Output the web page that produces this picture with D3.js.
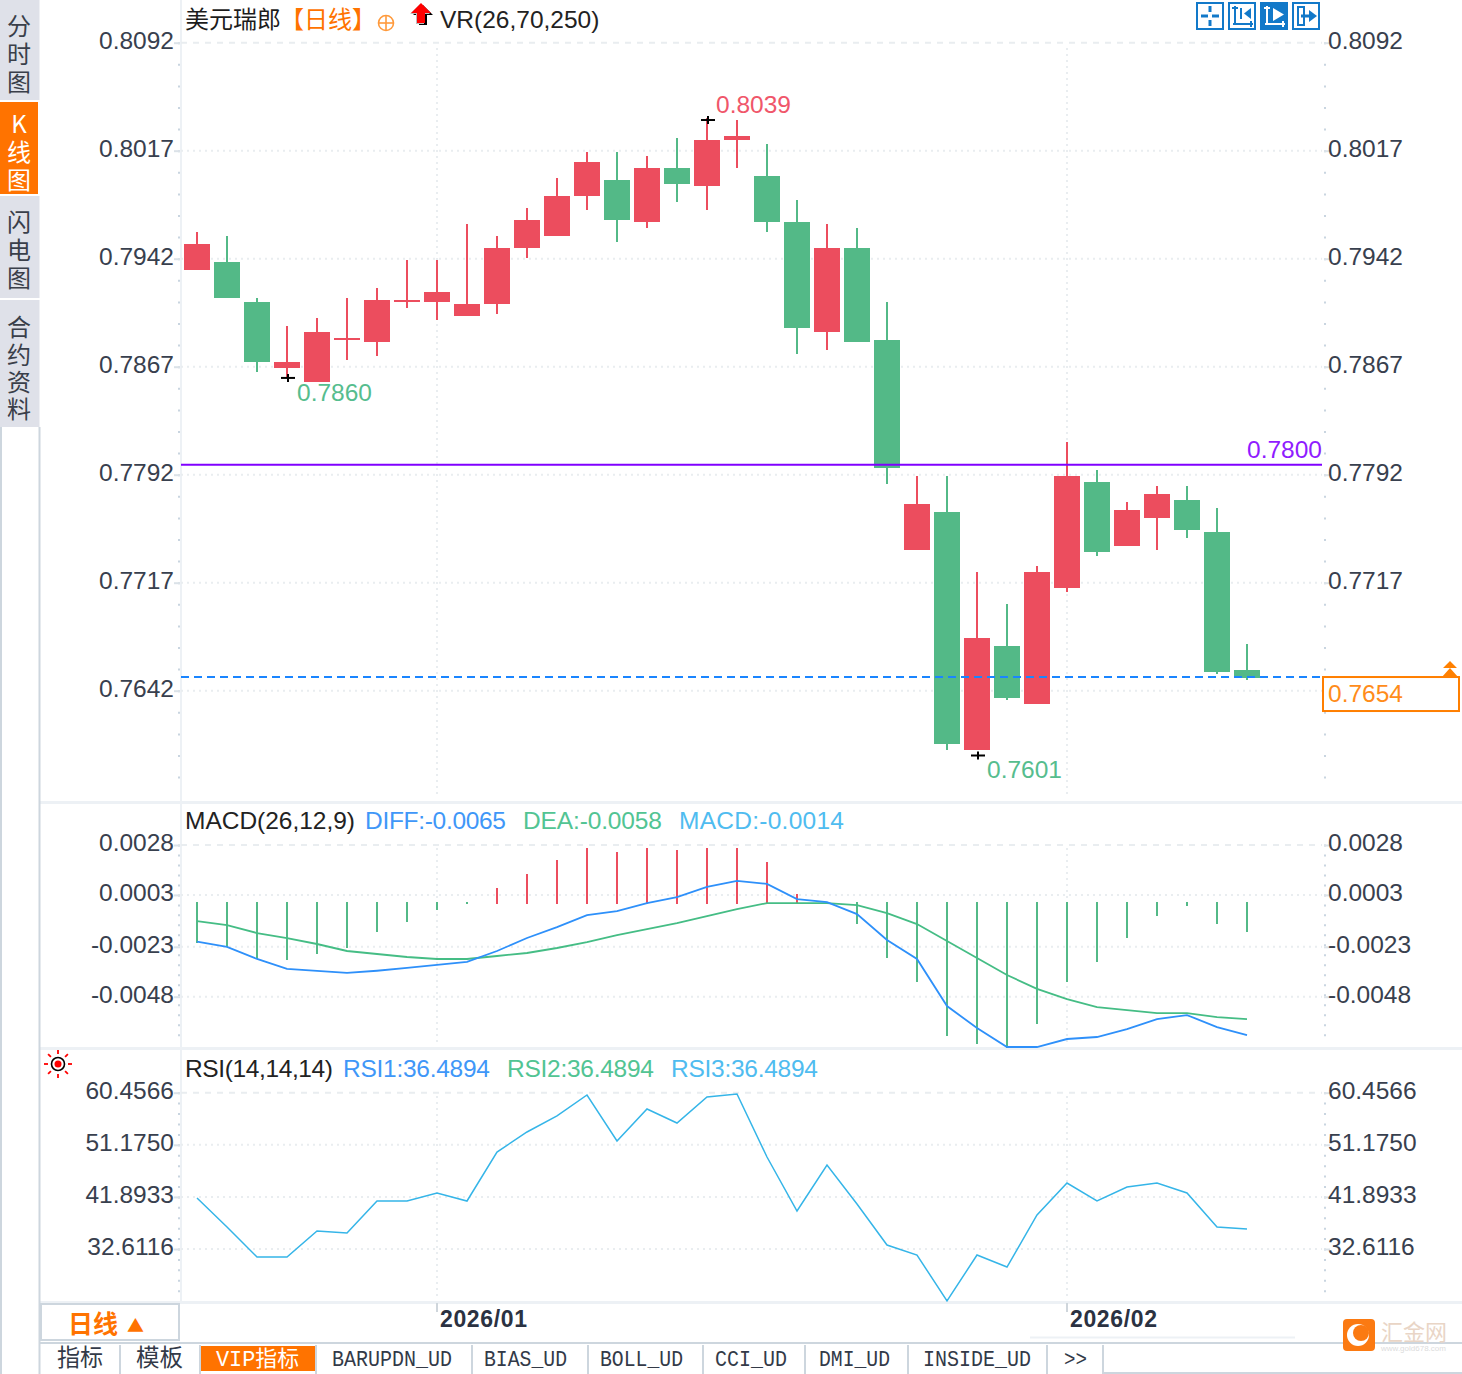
<!DOCTYPE html>
<html>
<head>
<meta charset="utf-8">
<script src="https://cdn.jsdelivr.net/npm/d3@7/dist/d3.min.js"></script>
<style>
html, body { margin: 0; padding: 0; background: #fff; }
svg { display: block; font-family: "Liberation Sans", "Noto Sans CJK SC", sans-serif; }
.tick text { font-size: 24.5px; fill: #38404e; }
.cjk { font-family: "Noto Sans CJK SC", sans-serif; }
.mono { font-family: "Liberation Mono", "Noto Sans CJK SC", monospace; }
.vertical { font-family: "Noto Sans CJK SC", sans-serif; writing-mode: vertical-rl; text-orientation: upright; }
</style>
</head>
<body>
<svg id="chart" width="1462" height="1374"></svg>
<script>
// candles, red ones close above open
var opens = [ 0.79342, 0.79397, 0.79119, 0.78661, 0.78564, 0.78855, 0.78842, 0.79119, 0.79119, 0.79022,
		0.79105, 0.79494, 0.79578, 0.79855, 0.79967, 0.79675, 0.80050, 0.79925, 0.80244, 0.79994,
		0.79675, 0.78911, 0.79494, 0.78855, 0.77397, 0.77661, 0.76008, 0.76730, 0.76328, 0.77133,
		0.77869, 0.77425, 0.77619, 0.77744, 0.77522, 0.76564 ];
var closes = [ 0.79522, 0.79147, 0.78703, 0.78703, 0.78911, 0.78869, 0.79133, 0.79133, 0.79189, 0.79105,
		0.79494, 0.79689, 0.79855, 0.80092, 0.79689, 0.80050, 0.79939, 0.80244, 0.80272, 0.79675,
		0.78939, 0.79494, 0.78842, 0.77967, 0.77717, 0.76050, 0.76786, 0.76369, 0.77244, 0.77911,
		0.77383, 0.77675, 0.77786, 0.77536, 0.76550, 0.76508 ];
var highs = [ 0.79605, 0.79578, 0.79147, 0.78953, 0.79008, 0.79147, 0.79217, 0.79411, 0.79411, 0.79661,
		0.79578, 0.79772, 0.79980, 0.80161, 0.80161, 0.80133, 0.80258, 0.80397, 0.80383, 0.80217,
		0.79828, 0.79661, 0.79633, 0.79119, 0.77911, 0.77911, 0.77244, 0.77022, 0.77286, 0.78147,
		0.77953, 0.77730, 0.77842, 0.77842, 0.77689, 0.76744 ];
var lows = [ 0.79342, 0.79147, 0.78633, 0.78592, 0.78564, 0.78717, 0.78744, 0.79078, 0.78994, 0.79022,
		0.79036, 0.79425, 0.79578, 0.79758, 0.79536, 0.79633, 0.79814, 0.79758, 0.80050, 0.79606,
		0.78758, 0.78786, 0.78842, 0.77855, 0.77397, 0.76008, 0.76008, 0.76355, 0.76328, 0.77105,
		0.77355, 0.77425, 0.77397, 0.77480, 0.76536, 0.76494 ];

var priceTicks = [ 0.8092, 0.8017, 0.7942, 0.7867, 0.7792, 0.7717, 0.7642 ];
var macdTicks = [ 0.0028, 0.0003, -0.0023, -0.0048 ];
var rsiTicks = [ 60.4566, 51.1750, 41.8933, 32.6116 ];

var macdBars = [ -0.00211, -0.00231, -0.00291, -0.00296, -0.00266, -0.00236, -0.00156, -0.00106, -0.00046, -0.00016,
		0.00065, 0.00135, 0.00205, 0.00265, 0.00245, 0.00265, 0.00255, 0.00265, 0.00265, 0.00195,
		0.00035, -0.00016, -0.00116, -0.00286, -0.00406, -0.00677, -0.00717, -0.00737, -0.00617, -0.00406,
		-0.00306, -0.00186, -0.00076, -0.00026, -0.00116, -0.00156 ];
var macdUp = [ 0, 0, 0, 0, 0, 0, 0, 0, 0, 0,
		1, 1, 1, 1, 1, 1, 1, 1, 1, 1,
		1, 1, 0, 0, 0, 0, 0, 0, 0, 0,
		0, 0, 0, 0, 0, 0 ];
var diffLine = [ -0.00204, -0.00230, -0.00291, -0.00341, -0.00351, -0.00361, -0.00350, -0.00336, -0.00321, -0.00306,
		-0.00251, -0.00186, -0.00131, -0.00071, -0.00051, -0.00011, 0.00019, 0.00070, 0.00100, 0.00085,
		0.00009, -0.00006, -0.00066, -0.00196, -0.00291, -0.00527, -0.00637, -0.00732, -0.00732, -0.00692,
		-0.00682, -0.00642, -0.00592, -0.00572, -0.00632, -0.00672 ];
var deaLine = [ -0.00101, -0.00121, -0.00161, -0.00186, -0.00216, -0.00251, -0.00266, -0.00281, -0.00291, -0.00291,
		-0.00276, -0.00261, -0.00236, -0.00206, -0.00171, -0.00141, -0.00111, -0.00076, -0.00041, -0.00011,
		-0.00011, -0.00011, -0.00021, -0.00061, -0.00116, -0.00201, -0.00286, -0.00371, -0.00441, -0.00492,
		-0.00532, -0.00547, -0.00562, -0.00562, -0.00582, -0.00592 ];
var rsiLine = [ 41.70, 36.53, 31.19, 31.19, 35.82, 35.46, 41.16, 41.16, 42.59, 41.16,
		49.89, 53.46, 56.31, 60.05, 51.85, 57.55, 55.06, 59.69, 60.23, 49.00,
		39.38, 47.57, 40.63, 33.32, 31.54, 23.35, 31.54, 29.40, 38.67, 44.37,
		41.16, 43.66, 44.37, 42.59, 36.53, 36.17 ];

var monthIndex = [ 8, 29 ];
var monthLabels = [ "2026/01", "2026/02" ];
var sideTabs = [ "分时图", "K线图", "闪电图", "合约资料" ];
var bottomTabs = [ "指标", "模板", "VIP指标", "BARUPDN_UD", "BIAS_UD", "BOLL_UD", "CCI_UD", "DMI_UD", "INSIDE_UD", ">>" ];
var extremes = [ { i : 17, v : 0.80383, label : "0.8039" }, { i : 3, v : 0.78592, label : "0.7860" }, { i : 26, v : 0.75970, label : "0.7601" } ];

var LINE_VALUE = 0.77989;
var LAST_VALUE = 0.76515;

var RED = "#ec4d5e";
var GREEN = "#53b987";
var GRID = "#e9edf0";
var SEPARATOR = "#edf1f5";
var BORDER = "#cdd6de";
var ORANGE = "#ff7300";
var PLOT_LEFT = 181;
var PLOT_RIGHT = 1322;

var svg = d3.select("#chart");

var x = d3.scaleLinear().domain([ 0, 35 ]).range([ 197, 1247 ]);
var yPrice = d3.scaleLinear().domain([ 0.8092, 0.7642 ]).range([ 42.7, 690.7 ]);
var yMacd = d3.scaleLinear().domain([ 0.0028, -0.0048 ]).range([ 845, 996.7 ]);
var yRsi = d3.scaleLinear().domain([ 60.4566, 32.6116 ]).range([ 1092.7, 1249 ]);

function addText(x0, y0, text, size, color, className, anchor) {
	return svg.append("text") //
	.attr("x", x0) //
	.attr("y", y0) //
	.attr("font-size", size) //
	.attr("fill", color) //
	.attr("class", className || null) //
	.attr("text-anchor", anchor || "start") //
	.text(text);
}// END: addText

function addLine(x1, y1, x2, y2, color, width, dash) {
	return svg.append("line") //
	.attr("x1", x1) //
	.attr("y1", y1) //
	.attr("x2", x2) //
	.attr("y2", y2) //
	.attr("stroke", color) //
	.attr("stroke-width", width) //
	.attr("stroke-dasharray", dash || null);
}// END: addLine

function generateFrame() {

	[ 802.5, 1048.5, 1302.5 ].forEach(function(y0) {
		addLine(40, y0, 1462, y0, SEPARATOR, 3);
	});

	addLine(181, 0, 181, 1302, SEPARATOR, 2);
	addLine(1, 427, 1, 1374, BORDER, 2);
	addLine(39.5, 427, 39.5, 1374, BORDER, 2);

}// END: generateFrame

function generateGrid(y, ticks, yTop, yBottom) {

	ticks.forEach(function(d, i) {
		if (i == 0) {
			addLine(PLOT_LEFT, y(d), PLOT_RIGHT, y(d), GRID, 2, "6,6");
		} else {
			addLine(PLOT_LEFT, y(d), PLOT_RIGHT, y(d), GRID, 2, "2,4");
		}
	});

	monthIndex.forEach(function(d) {
		addLine(x(d), yTop, x(d), yBottom, GRID, 2, "2,4");
	});

}// END: generateGrid

function generateAxes(y, ticks, rightTicks, minorStep, yEnd) {

	var minor = d3.range(ticks[0], y.invert(yEnd), -minorStep);

	[ [ d3.axisLeft, PLOT_LEFT - 1, ticks ], [ d3.axisRight, 1324, rightTicks ] ].forEach(function(side) {

		svg.append("g") //
		.attr("transform", "translate(" + side[1] + ",0)") //
		.call(side[0](y).tickValues(minor).tickSize(2).tickFormat("")) //
		.call(function(g) {
			g.select(".domain").remove();
			g.selectAll("line").attr("stroke", "#c9d5e0").attr("stroke-width", 2);
		});

		svg.append("g") //
		.attr("transform", "translate(" + side[1] + ",0)") //
		.call(side[0](y).tickValues(side[2]).tickSize(6).tickPadding(side[0] == d3.axisLeft ? 0 : -2) //
		.tickFormat(function(d) {
			return (d.toFixed(4));
		})) //
		.call(function(g) {
			g.select(".domain").remove();
			g.selectAll("line").attr("stroke", "#dbe2e8").attr("stroke-width", 2);
			g.selectAll("text").attr("dy", "0.24em").attr("font-family", null);
		});

	});

}// END: generateAxes

function generateCandles() {

	var candle = svg.append("g").selectAll("g").data(opens).enter().append("g") //
	.attr("fill", function(d, i) {
		return (closes[i] >= d ? RED : GREEN);
	});

	candle.append("rect") //
	.attr("shape-rendering", "crispEdges") //
	.attr("x", function(d, i) {
		return (x(i) - 1);
	}) //
	.attr("width", 2) //
	.attr("y", function(d, i) {
		return (yPrice(highs[i]));
	}) //
	.attr("height", function(d, i) {
		return (yPrice(lows[i]) - yPrice(highs[i]));
	});

	candle.append("rect") //
	.attr("shape-rendering", "crispEdges") //
	.attr("x", function(d, i) {
		return (x(i) - 13);
	}) //
	.attr("width", 26) //
	.attr("y", function(d, i) {
		return (yPrice(Math.max(d, closes[i])));
	}) //
	.attr("height", function(d, i) {
		return (Math.max(2, yPrice(Math.min(d, closes[i])) - yPrice(Math.max(d, closes[i]))));
	});

}// END: generateCandles

function generateExtremes() {

	var labelColors = [ "#f0566a", "#56bd8e", "#56bd8e" ];
	var labelDx = [ 9, 10, 10 ];
	var labelDy = [ -7, 23, 22 ];

	extremes.forEach(function(d, i) {

		var cx = x(d.i), cy = yPrice(d.v);
		addLine(cx - 6, cy, cx + 8, cy, "#000", 2);
		addLine(cx + 1, cy - 4, cx + 1, cy + 4, "#000", 2);
		addText(cx + labelDx[i], cy + labelDy[i], d.label, 24.5, labelColors[i]);

	});

}// END: generateExtremes

function generatePriceLines() {

	var lineY = yPrice(LINE_VALUE);
	var lastY = yPrice(LAST_VALUE);

	addLine(PLOT_LEFT, lineY, PLOT_RIGHT, lineY, "#8000ff", 2);
	addText(PLOT_RIGHT, lineY - 7, "0.7800", 24.5, "#8f1cff", null, "end");

	addLine(PLOT_LEFT, lastY, PLOT_RIGHT, lastY, "#1a85ff", 2, "8,5");

	svg.append("rect") //
	.attr("x", 1323) //
	.attr("y", lastY) //
	.attr("width", 136) //
	.attr("height", 34) //
	.attr("fill", "#fff") //
	.attr("stroke", "#ff7f00") //
	.attr("stroke-width", 2);

	addText(1328, lastY + 25, "0.7654", 24.5, "#ff8c1a");

	svg.append("path") //
	.attr("d", "M1450 661l7 7h-14zM1450 668l8 9h-16z") //
	.attr("fill", "#ff8000");

}// END: generatePriceLines

function generateMacd() {

	svg.append("g").selectAll("rect").data(macdBars).enter().append("rect") //
	.attr("shape-rendering", "crispEdges") //
	.attr("x", function(d, i) {
		return (x(i) - 1);
	}) //
	.attr("width", 2) //
	.attr("y", function(d, i) {
		return (macdUp[i] ? yMacd(d) : yMacd(-0.00006));
	}) //
	.attr("height", function(d, i) {
		return (macdUp[i] ? yMacd(-0.00016) - yMacd(d) : yMacd(d) - yMacd(-0.00006));
	}) //
	.attr("fill", function(d, i) {
		return (macdUp[i] ? RED : GREEN);
	});

	var line = d3.line().x(function(d, i) {
		return (x(i));
	}).y(function(d) {
		return (yMacd(d));
	});

	svg.append("path").attr("d", line(deaLine)).attr("fill", "none").attr("stroke", "#45bd85").attr("stroke-width", 1.8);
	svg.append("path").attr("d", line(diffLine)).attr("fill", "none").attr("stroke", "#2e90fa").attr("stroke-width", 1.8);

}// END: generateMacd

function generateRsi() {

	var line = d3.line().x(function(d, i) {
		return (x(i));
	}).y(function(d) {
		return (yRsi(d));
	});

	svg.append("path").attr("d", line(rsiLine)).attr("fill", "none").attr("stroke", "#35b5e8").attr("stroke-width", 1.5);

}// END: generateRsi

function generateTitles() {

	addText(185, 28, "美元瑞郎", 24, "#1c1c1c", "cjk");
	addText(280, 28, "【日线】", 24, ORANGE, "cjk");

	// small marker icons next to the title
	svg.append("circle").attr("cx", 386).attr("cy", 23).attr("r", 7.5).attr("fill", "none").attr("stroke", "#ff9a3c").attr("stroke-width", 1.6);
	addLine(378, 23, 394, 23, "#ff9a3c", 1.6);
	addLine(386, 15, 386, 31, "#ff9a3c", 1.6);
	var arrow = "l10 10h-6v10h-8v-10h-6z";
	svg.append("path").attr("d", "M423 5" + arrow).attr("fill", "#000");
	svg.append("path").attr("d", "M420 4" + arrow).attr("fill", "#bbb");
	svg.append("path").attr("d", "M421 3" + arrow).attr("fill", "#f00");

	addText(440, 28, "VR(26,70,250)", 24.5, "#222");

	addText(185, 829, "MACD(26,12,9)", 24.5, "#222").attr("textLength", 170);
	addText(365, 829, "DIFF:-0.0065", 24.5, "#3f97f8").attr("textLength", 141);
	addText(523, 829, "DEA:-0.0058", 24.5, "#52c493").attr("textLength", 139);
	addText(679, 829, "MACD:-0.0014", 24.5, "#4fbcf0").attr("textLength", 165);

	addText(185, 1077, "RSI(14,14,14)", 24.5, "#222").attr("textLength", 148);
	addText(343, 1077, "RSI1:36.4894", 24.5, "#3f97f8").attr("textLength", 147);
	addText(507, 1077, "RSI2:36.4894", 24.5, "#52c493").attr("textLength", 147);
	addText(671, 1077, "RSI3:36.4894", 24.5, "#4fbcf0").attr("textLength", 147);

	// red sun marker of the RSI panel
	svg.append("circle").attr("cx", 58).attr("cy", 1064).attr("r", 6.5).attr("fill", "#fff").attr("stroke", "#000").attr("stroke-width", 1.6);
	svg.append("circle").attr("cx", 58).attr("cy", 1064).attr("r", 3.5).attr("fill", "#f00");
	d3.range(8).forEach(function(d) {
		var a = d * Math.PI / 4;
		addLine(58 + 10 * Math.cos(a), 1064 + 10 * Math.sin(a), 58 + 14 * Math.cos(a), 1064 + 14 * Math.sin(a), "#f00", 1.8);
	});

}// END: generateTitles

function generateToolbar() {

	[ 1197, 1229, 1261, 1293 ].forEach(function(x0, i) {

		svg.append("rect") //
		.attr("x", x0) //
		.attr("y", 3) //
		.attr("width", 26) //
		.attr("height", 26) //
		.attr("fill", i == 2 ? "#1279c9" : "#fff") //
		.attr("stroke", "#1279c9") //
		.attr("stroke-width", 2);

		var c = i == 2 ? "#fff" : "#1279c9";
		if (i == 0) {
			addLine(x0 + 4, 16, x0 + 11, 16, c, 3);
			addLine(x0 + 15, 16, x0 + 22, 16, c, 3);
			addLine(x0 + 13, 6, x0 + 13, 12, c, 3);
			addLine(x0 + 13, 20, x0 + 13, 26, c, 3);
		} else if (i == 3) {
			svg.append("rect").attr("x", x0 + 5).attr("y", 7).attr("width", 6).attr("height", 18).attr("fill", "none").attr("stroke", c).attr("stroke-width", 2);
			addLine(x0 + 8, 16, x0 + 17, 16, c, 3);
			svg.append("path").attr("d", "M" + (x0 + 16) + " 10l8 6l-8 6z").attr("fill", c);
		} else {
			addLine(x0 + 6, 6, x0 + 6, 25, c, 2);
			addLine(x0 + 4, 24, x0 + 24, 24, c, 2);
			addLine(x0 + 3, 8, x0 + 9, 8, c, 2);
			addLine(x0 + 22, 21, x0 + 22, 27, c, 2);
			if (i == 1) {
				addLine(x0 + 12, 8, x0 + 12, 19, c, 2);
				svg.append("path").attr("d", "M" + (x0 + 22) + " 8v11l-7-5.5z").attr("fill", c);
			} else {
				svg.append("path").attr("d", "M" + (x0 + 12) + " 8v13l11-6.5z").attr("fill", c);
			}
		}

	});

}// END: generateToolbar

function generateSideTabs() {

	var tabTops = [ 0, 102, 196, 300 ];
	var tabBottoms = [ 100, 194, 298, 427 ];
	var textTops = [ 14, 112, 210, 315 ];
	var charGap = [ 4, 4, 4, 3.4 ];

	sideTabs.forEach(function(d, i) {

		svg.append("rect") //
		.attr("x", 0) //
		.attr("y", tabTops[i]) //
		.attr("width", i == 1 ? 38 : 39.5) //
		.attr("height", tabBottoms[i] - tabTops[i]) //
		.attr("fill", i == 1 ? ORANGE : "#dfe1e9");

		addText(19, textTops[i], d, 24, i == 1 ? "#fff" : "#3a3f4a", "vertical") //
		.attr("letter-spacing", charGap[i]);

	});

}// END: generateSideTabs

function generateBottomBar() {

	monthIndex.forEach(function(d, i) {
		addLine(x(d), 1303, x(d), 1312, "#cfd6dc", 2);
		svg.append("text") //
		.attr("x", x(d) + 3) //
		.attr("y", 1327) //
		.attr("font-size", 23) //
		.attr("font-weight", "bold") //
		.attr("fill", "#2b3242") //
		.attr("textLength", 87) //
		.text(monthLabels[i]);
	});

	addLine(1030, 1337.5, 1295, 1337.5, SEPARATOR, 2);

	svg.append("rect") //
	.attr("x", 41) //
	.attr("y", 1304) //
	.attr("width", 138) //
	.attr("height", 36) //
	.attr("fill", "#fff") //
	.attr("stroke", BORDER) //
	.attr("stroke-width", 2);

	addText(68, 1333, "日线", 25, ORANGE, "cjk").attr("font-weight", "bold");
	addText(127, 1332, "▲", 17, ORANGE, "cjk");

	addLine(40, 1343, 1462, 1343, BORDER, 2);
	addLine(1103, 1373, 1462, 1373, BORDER, 2);

	var tabLeft = [ 57, 136, 216, 332, 484, 600, 715, 819, 923, 1064 ];
	var tabWidth = [ 46, 47, 83, 120, 83, 83, 72, 71, 108, 23 ];
	var separators = [ 120, 200, 316, 472, 588, 703, 805, 908, 1047, 1103 ];

	svg.append("rect").attr("x", 200).attr("y", 1346).attr("width", 115).attr("height", 25).attr("fill", ORANGE);

	separators.forEach(function(d) {
		addLine(d, 1345, d, 1374, BORDER, 2);
	});

	bottomTabs.forEach(function(d, i) {
		var isCjk = i < 2;
		addText(tabLeft[i], 1366, d, isCjk ? 24 : 22, i == 2 ? "#fff" : "#333a48", isCjk ? "cjk" : "mono") //
		.attr("textLength", tabWidth[i]) //
		.attr("lengthAdjust", "spacingAndGlyphs");
	});

}// END: generateBottomBar

function generateLogo() {

	svg.append("rect").attr("x", 1343).attr("y", 1319).attr("width", 32).attr("height", 32).attr("rx", 4).attr("fill", "#fb7a12");
	svg.append("circle").attr("cx", 1358).attr("cy", 1335).attr("r", 11).attr("fill", "#fff");
	svg.append("circle").attr("cx", 1361).attr("cy", 1333).attr("r", 8).attr("fill", "#fb7a12");

	addText(1381, 1340, "汇金网", 22, "#e9d5c6", "cjk");
	addText(1381, 1351, "www.gold678.com", 8, "#dcdcdc");

}// END: generateLogo

generateFrame();

generateGrid(yPrice, priceTicks, 48, 796);
generateGrid(yMacd, macdTicks, 848, 1044);
generateGrid(yRsi, rsiTicks, 1096, 1300);

// the last-price box covers the 0.7642 label on the right
generateAxes(yPrice, priceTicks, priceTicks.slice(0, 6), 0.0015, 785);
generateAxes(yMacd, macdTicks, macdTicks, 0.0005, 1042);
generateAxes(yRsi, rsiTicks, rsiTicks, 1.85634, 1298);

generateCandles();
generatePriceLines();
generateExtremes();
generateMacd();
generateRsi();
generateTitles();
generateToolbar();
generateSideTabs();
generateBottomBar();
generateLogo();
</script>
</body>
</html>
